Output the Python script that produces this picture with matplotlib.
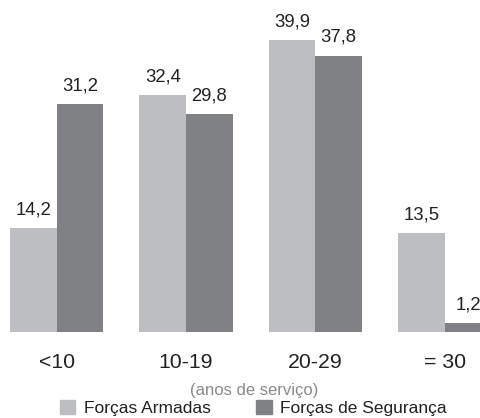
import matplotlib
matplotlib.use('Agg')
import matplotlib.pyplot as plt
import numpy as np
from matplotlib.patches import Patch

# Tempo de serviço (anos) por grupo
categories = ['<10', '10-19', '20-29', '= 30']
armadas = [14.2, 32.4, 39.9, 13.5]
seguranca = [31.2, 29.8, 37.8, 1.2]
series_names = ['Forças Armadas', 'Forças de Segurança']

light = '#bdbec2'
dark = '#808185'
text_color = '#222222'

plt.rcParams['font.family'] = ['Liberation Sans', 'DejaVu Sans']

fig = plt.figure(figsize=(4.81, 4.18), dpi=100)
ax = fig.add_axes([0, 86 / 418, 1, 332 / 418])

bar_width = 0.36
index = np.arange(len(categories))

b1 = ax.bar(index, armadas, bar_width, color=light, align='edge')
b2 = ax.bar(index + bar_width, seguranca, bar_width, color=dark, align='edge')

# valores acima das barras, com vírgula decimal
for bars, vals in ((b1, armadas), (b2, seguranca)):
    for rect, v in zip(bars, vals):
        ax.annotate(f'{v:.1f}'.replace('.', ','),
                    (rect.get_x() + rect.get_width() / 2, v),
                    xytext=(0, 7), textcoords='offset points',
                    ha='center', va='bottom', fontsize=13.3, color=text_color)

ax.set_xlim(-0.078, 3.64)
ax.set_ylim(0, 45.4)
ax.axis('off')

# rótulos das categorias, centrados em cada grupo
x0, x1 = ax.get_xlim()
for i, lab in enumerate(categories):
    fig.text((index[i] + bar_width - x0) / (x1 - x0), 1 - 363 / 418, lab,
             ha='center', va='center', fontsize=15.3, color=text_color)

fig.text(0.528, 1 - 391 / 418, '(anos de serviço)', ha='center', va='center',
         fontsize=12, color='#8a8a8a')

handles = [Patch(color=light), Patch(color=dark)]
fig.legend(handles, series_names, loc='center', bbox_to_anchor=(0.527, 1 - 408 / 418),
           ncol=2, frameon=False, fontsize=12.5, handlelength=0.9, handleheight=0.9,
           handletextpad=0.5, columnspacing=2.6, borderpad=0, labelcolor=text_color)

fig.savefig('out.png', dpi=100)
